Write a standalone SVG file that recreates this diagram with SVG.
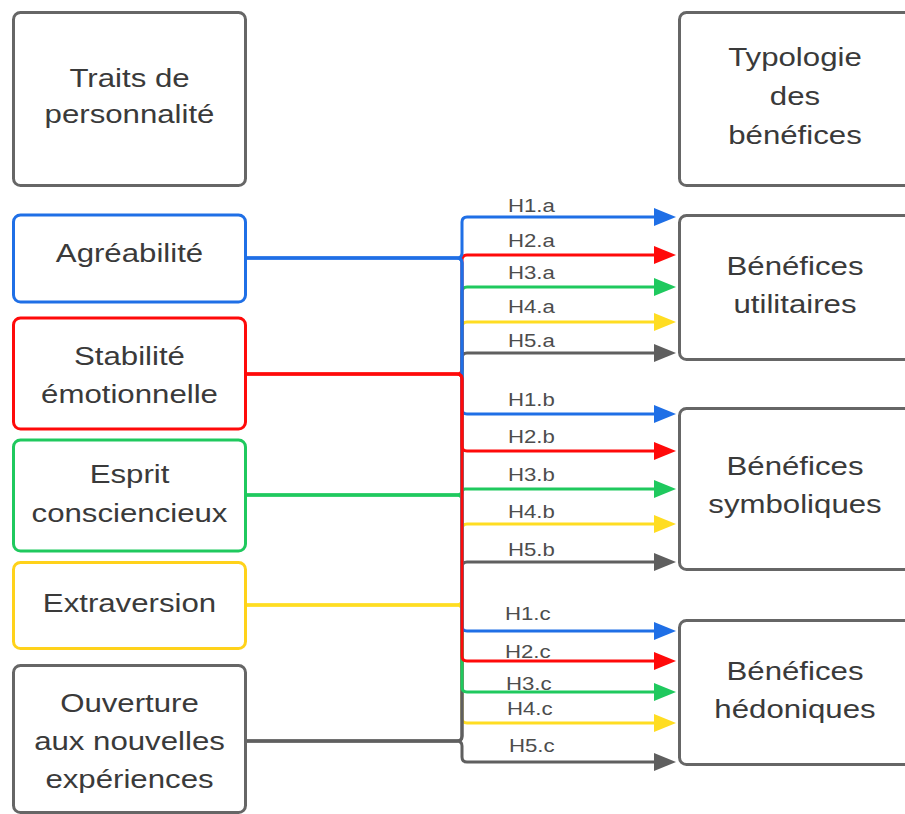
<svg xmlns="http://www.w3.org/2000/svg" width="905" height="814" viewBox="0 0 905 814">
<style>
.box{fill:#fff;stroke-width:3}
.t{font-family:"Liberation Sans",Arial,sans-serif;font-size:26px;fill:#3a3a3a;text-anchor:middle}
.l{font-family:"Liberation Sans",Arial,sans-serif;font-size:18.5px;fill:#4d4d4d}
.c{fill:none;stroke-width:3}
.cb{stroke:#1f6fe6;marker-end:url(#mb)}
.cr{stroke:#ff0a0a;marker-end:url(#mr)}
.cg{stroke:#1fc95e;marker-end:url(#mg)}
.cy{stroke:#ffdd22;marker-end:url(#my)}
.ck{stroke:#5f5f5f;marker-end:url(#mk)}
</style>
<defs>
<marker id="mb" markerWidth="22" markerHeight="18" refX="0" refY="9" orient="auto" markerUnits="userSpaceOnUse"><path d="M0,0 L22,9 L0,18 z" fill="#1f6fe6"/></marker>
<marker id="mr" markerWidth="22" markerHeight="18" refX="0" refY="9" orient="auto" markerUnits="userSpaceOnUse"><path d="M0,0 L22,9 L0,18 z" fill="#ff0a0a"/></marker>
<marker id="mg" markerWidth="22" markerHeight="18" refX="0" refY="9" orient="auto" markerUnits="userSpaceOnUse"><path d="M0,0 L22,9 L0,18 z" fill="#1fc95e"/></marker>
<marker id="my" markerWidth="22" markerHeight="18" refX="0" refY="9" orient="auto" markerUnits="userSpaceOnUse"><path d="M0,0 L22,9 L0,18 z" fill="#ffdd22"/></marker>
<marker id="mk" markerWidth="22" markerHeight="18" refX="0" refY="9" orient="auto" markerUnits="userSpaceOnUse"><path d="M0,0 L22,9 L0,18 z" fill="#5f5f5f"/></marker>
</defs>
<rect width="905" height="814" fill="#fff"/>

<g id="connectors">
  <!-- yellow -->
  <path class="c cy" d="M247,605 H457 Q462,605 462,600 V327 Q462,322 467,322 H654"/>
  <path class="c cy" d="M247,605 H457 Q462,605 462,600 V529 Q462,524 467,524 H654"/>
  <path class="c cy" d="M247,605 H457 Q462,605 462,610 V718 Q462,723 467,723 H654"/>
  <!-- gray -->
  <path class="c ck" d="M247,741 H457 Q462,741 462,736 V358 Q462,353 467,353 H654"/>
  <path class="c ck" d="M247,741 H457 Q462,741 462,736 V567 Q462,562 467,562 H654"/>
  <path class="c ck" d="M247,741 H457 Q462,741 462,746 V757 Q462,762 467,762 H654"/>
  <!-- green -->
  <path class="c cg" d="M247,495 H457 Q462,495 462,490 V292 Q462,287 467,287 H654"/>
  <path class="c cg" d="M247,495 H459 Q462,495 462,492 Q462,489 465,489 H654"/>
  <path class="c cg" d="M247,495 H457 Q462,495 462,500 V687 Q462,692 467,692 H654"/>
  <!-- red up -->
  <path class="c cr" d="M247,374 H457 Q462,374 462,369 V260 Q462,255 467,255 H654"/>
  <!-- blue -->
  <path class="c cb" d="M247,258 H457 Q462,258 462,253 V222 Q462,217 467,217 H654"/>
  <path class="c cb" d="M247,258 H457 Q462,258 462,263 V409 Q462,414 467,414 H654"/>
  <path class="c cb" d="M247,258 H457 Q462,258 462,263 V626 Q462,631 467,631 H654"/>
  <!-- red down -->
  <path class="c cr" d="M247,374 H457 Q462,374 462,379 V446 Q462,451 467,451 H654"/>
  <path class="c cr" d="M247,374 H457 Q462,374 462,379 V656 Q462,661 467,661 H654"/>

  <text class="l" transform="translate(508,212) scale(1.2,1)">H1.a</text>
  <text class="l" transform="translate(508,247) scale(1.2,1)">H2.a</text>
  <text class="l" transform="translate(508,279) scale(1.2,1)">H3.a</text>
  <text class="l" transform="translate(508,313) scale(1.2,1)">H4.a</text>
  <text class="l" transform="translate(508,347) scale(1.2,1)">H5.a</text>
  <text class="l" transform="translate(508,406) scale(1.2,1)">H1.b</text>
  <text class="l" transform="translate(508,443) scale(1.2,1)">H2.b</text>
  <text class="l" transform="translate(508,481) scale(1.2,1)">H3.b</text>
  <text class="l" transform="translate(508,518) scale(1.2,1)">H4.b</text>
  <text class="l" transform="translate(508,556) scale(1.2,1)">H5.b</text>
  <text class="l" transform="translate(505,620) scale(1.2,1)">H1.c</text>
  <text class="l" transform="translate(505,658) scale(1.2,1)">H2.c</text>
  <text class="l" transform="translate(506,690) scale(1.2,1)">H3.c</text>
  <text class="l" transform="translate(507,715) scale(1.2,1)">H4.c</text>
  <text class="l" transform="translate(509,752) scale(1.2,1)">H5.c</text>
</g>

<g id="traits">
  <rect class="box" x="13.5" y="12.5" width="232" height="173" rx="7" stroke="#666"/>
  <text class="t" transform="translate(129.5,87) scale(1.2,1)">Traits de</text>
  <text class="t" transform="translate(129.5,123) scale(1.2,1)">personnalité</text>
</g>
<g id="agreabilite">
  <rect class="box" x="13.5" y="215" width="232" height="87" rx="7" stroke="#1f6fe6"/>
  <text class="t" transform="translate(129.5,262) scale(1.2,1)">Agréabilité</text>
</g>
<g id="stabilite">
  <rect class="box" x="13.5" y="318" width="232" height="111" rx="7" stroke="#ff0a0a"/>
  <text class="t" transform="translate(129.5,365) scale(1.2,1)">Stabilité</text>
  <text class="t" transform="translate(129.5,403) scale(1.2,1)">émotionnelle</text>
</g>
<g id="esprit">
  <rect class="box" x="13.5" y="440" width="232" height="111" rx="7" stroke="#1fc95e"/>
  <text class="t" transform="translate(129.5,483) scale(1.2,1)">Esprit</text>
  <text class="t" transform="translate(129.5,522) scale(1.2,1)">consciencieux</text>
</g>
<g id="extraversion">
  <rect class="box" x="13.5" y="562.5" width="232" height="86" rx="7" stroke="#ffd21a"/>
  <text class="t" transform="translate(129.5,612) scale(1.2,1)">Extraversion</text>
</g>
<g id="ouverture">
  <rect class="box" x="13.5" y="665.5" width="232" height="147" rx="7" stroke="#666"/>
  <text class="t" transform="translate(129.5,712) scale(1.2,1)">Ouverture</text>
  <text class="t" transform="translate(129.5,750) scale(1.2,1)">aux nouvelles</text>
  <text class="t" transform="translate(129.5,788) scale(1.2,1)">expériences</text>
</g>

<g id="typologie">
  <rect class="box" x="679.5" y="12.5" width="240" height="173" rx="7" stroke="#666"/>
  <text class="t" transform="translate(795,66) scale(1.2,1)">Typologie</text>
  <text class="t" transform="translate(795,105) scale(1.2,1)">des</text>
  <text class="t" transform="translate(795,144) scale(1.2,1)">bénéfices</text>
</g>
<g id="utilitaires">
  <rect class="box" x="679.5" y="215.5" width="240" height="144" rx="7" stroke="#666"/>
  <text class="t" transform="translate(795,275) scale(1.2,1)">Bénéfices</text>
  <text class="t" transform="translate(795,313) scale(1.2,1)">utilitaires</text>
</g>
<g id="symboliques">
  <rect class="box" x="679.5" y="408.5" width="240" height="161" rx="7" stroke="#666"/>
  <text class="t" transform="translate(795,475) scale(1.2,1)">Bénéfices</text>
  <text class="t" transform="translate(795,513) scale(1.2,1)">symboliques</text>
</g>
<g id="hedoniques">
  <rect class="box" x="679.5" y="620.5" width="240" height="144" rx="7" stroke="#666"/>
  <text class="t" transform="translate(795,680) scale(1.2,1)">Bénéfices</text>
  <text class="t" transform="translate(795,718) scale(1.2,1)">hédoniques</text>
</g>
</svg>
